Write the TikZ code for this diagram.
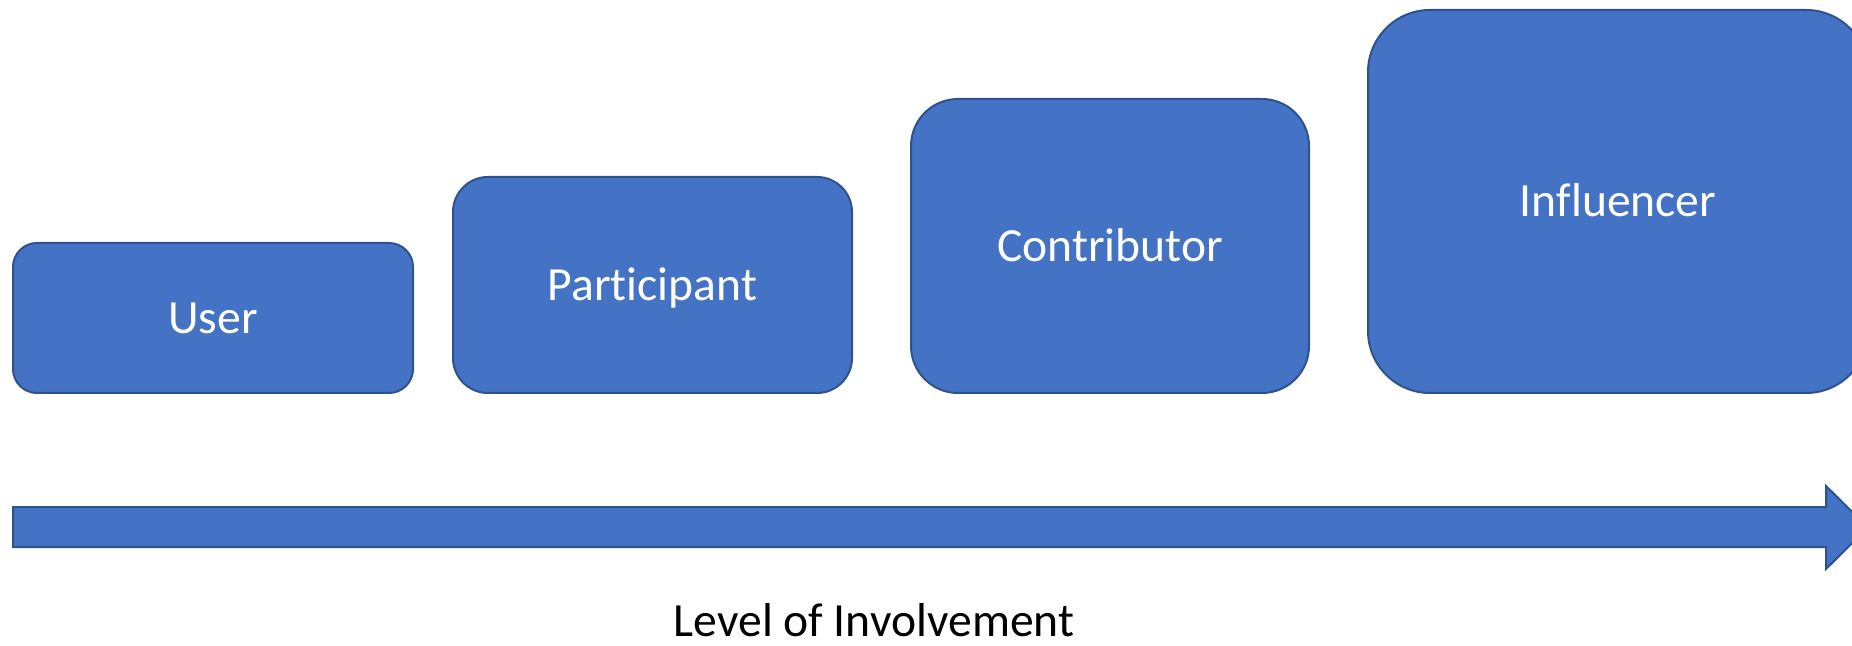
\documentclass[tikz,border=0pt]{standalone}
\usepackage{fontspec}
\setmainfont{Carlito}[Ligatures={NoCommon}]
\definecolor{boxfill}{HTML}{4472C4}
\definecolor{boxline}{HTML}{2F528F}
\begin{document}
\begin{tikzpicture}[x=0.5pt,y=-0.5pt,
  stage/.style={draw=boxline, fill=boxfill, line width=1pt, text=white,
    font=\fontsize{23.8pt}{28pt}\selectfont, text height=15.3pt, text depth=0pt,
    inner sep=0pt, outer sep=0pt},
  axisarrow/.style={draw=boxline, fill=boxfill, line width=1pt},
  axislabel/.style={font=\fontsize{23.8pt}{28pt}\selectfont, text=black, anchor=base, inner sep=0pt}]
\clip (0,0) rectangle (1852,646);
\node[stage, minimum width=200pt, minimum height=75pt, rounded corners=12pt] (user) at (213,318) {User};
\node[stage, minimum width=199.5pt, minimum height=108pt, rounded corners=17.5pt] (participant) at (652.5,285) {Participant};
\node[stage, minimum width=199pt, minimum height=147pt, rounded corners=23.5pt] (contributor) at (1110,246) {Contributor};
\node[stage, minimum width=250pt, minimum height=191.5pt, rounded corners=31pt] (influencer) at (1618,201.5) {Influencer};
\draw[axisarrow] (13,507) -- (1826,507) -- (1826,486) -- (1868,527.5) -- (1826,569) -- (1826,547) -- (13,547) -- cycle;
\node[axislabel] (level) at (874,636) {Level of Involvement};
\end{tikzpicture}
\end{document}
